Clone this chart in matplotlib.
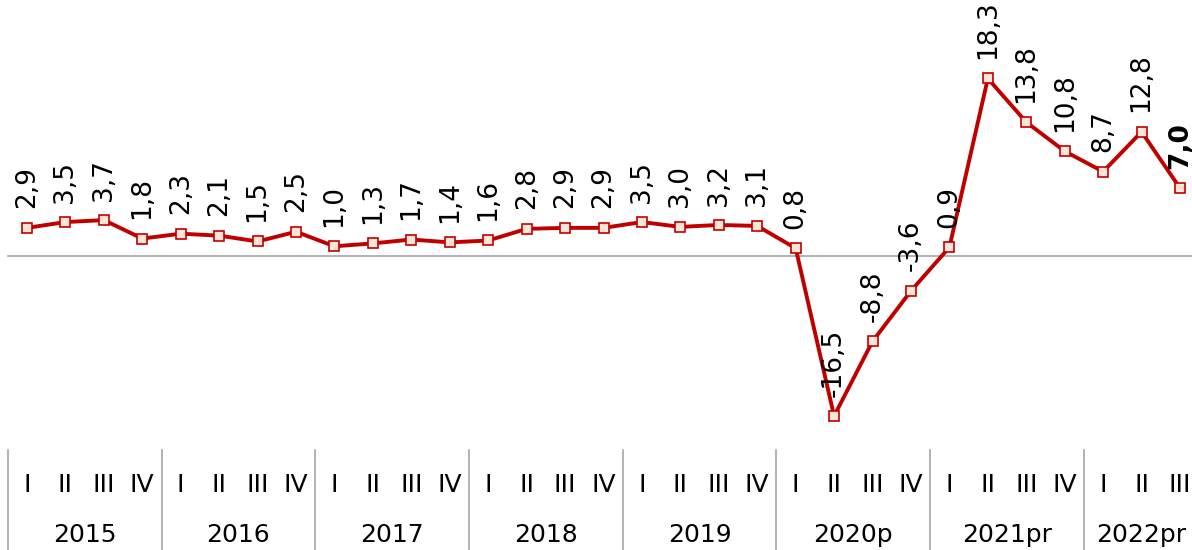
import numpy as np
import matplotlib
matplotlib.use("Agg")
from matplotlib import pyplot as plt
import matplotlib.transforms as mtransforms

# quarterly growth series, 2015 I .. 2022 III
years = ["2015", "2016", "2017", "2018", "2019", "2020p", "2021pr", "2022pr"]
quarters_per_year = [4, 4, 4, 4, 4, 4, 4, 3]
quarter_names = ["I", "II", "III", "IV"]
values = [2.9, 3.5, 3.7, 1.8,
          2.3, 2.1, 1.5, 2.5,
          1.0, 1.3, 1.7, 1.4,
          1.6, 2.8, 2.9, 2.9,
          3.5, 3.0, 3.2, 3.1,
          0.8, -16.5, -8.8, -3.6,
          0.9, 18.3, 13.8, 10.8,
          8.7, 12.8, 7.0]

plt.rcParams['font.family'] = ['DejaVu Sans']

W, H = 1192, 550
fig = plt.figure(figsize=(W / 100, H / 100), dpi=100)
ax = fig.add_axes([0, 0, 1, 1])

x = np.arange(len(values))
step = (1180 - 27) / 30
ax.set_xlim(-27 / step, 30 + (W - 1180) / step)
px_per_unit = 9.7
ax.set_ylim(-(H - 256) / px_per_unit, 256 / px_per_unit)
ax.axis("off")

# zero line
ax.axhline(0, xmin=8 / W, xmax=1, color="#A6A6A6", lw=1.2, zorder=1)

ax.plot(x, values, color="#C00000", lw=2.8, marker="s", markersize=7,
        markerfacecolor="#FCE4D6", markeredgecolor="#C00000", markeredgewidth=1.2,
        zorder=3)

for i, v in enumerate(values):
    txt = f"{v:.1f}".replace(".", ",")
    last = i == len(values) - 1
    ax.annotate(txt, (i, v), xytext=(0, 14), textcoords="offset points",
                rotation=90, ha="center", va="bottom", fontsize=19,
                fontweight="bold" if last else "normal", color="black",
                annotation_clip=False)

# category axis below
trans = mtransforms.blended_transform_factory(ax.transData, ax.transAxes)
pos = 0
for yr, nq in zip(years, quarters_per_year):
    ax.plot([pos - 0.5, pos - 0.5], [0, 1 - 450 / H], color="#A6A6A6", lw=1.2,
            transform=trans, clip_on=False)
    for q in range(nq):
        ax.text(pos + q, 1 - 485 / H, quarter_names[q], transform=trans,
                ha="center", va="center", fontsize=18)
    ax.text(pos + (nq - 1) / 2, 1 - 535 / H, yr, transform=trans,
            ha="center", va="center", fontsize=18)
    pos += nq

fig.savefig("out.png", dpi=100)
